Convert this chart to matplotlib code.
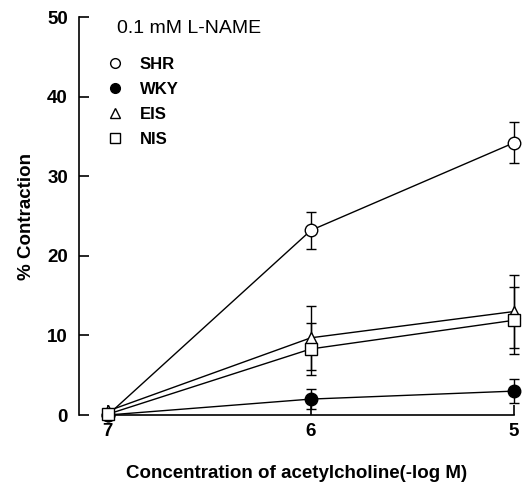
import matplotlib

matplotlib.use("Agg")
import matplotlib.pyplot as plt
from matplotlib.lines import Line2D

plt.rcParams["font.family"] = ["Liberation Sans", "DejaVu Sans"]

# -log M concentration of acetylcholine
conc = [7, 6, 5]

shr = [0.0, 23.2, 34.2]
shr_err = [0.3, 2.3, 2.6]
wky = [0.0, 2.0, 3.0]
wky_err = [0.2, 1.3, 1.5]
eis = [0.5, 9.7, 13.0]
eis_err = [0.3, 4.0, 4.6]
nis = [0.1, 8.3, 11.9]
nis_err = [0.2, 3.3, 4.2]

series = [
    ("SHR", shr, shr_err, "o", "white", 9),
    ("WKY", wky, wky_err, "o", "black", 9),
    ("EIS", eis, eis_err, "^", "white", 9),
    ("NIS", nis, nis_err, "s", "white", 8),
]

fig = plt.figure(figsize=(5.31, 4.82), dpi=100)
ax = fig.add_axes([79 / 531, 1 - 415 / 482, (514 - 79) / 531, 398 / 482])

for name, y, err, mk, fc, ms in series:
    ax.errorbar(conc, y, yerr=err, color="black", lw=1.0, elinewidth=1.0,
                capsize=3.5, capthick=1.0, marker=mk, mfc=fc, mec="black",
                mew=1.0, ms=ms, clip_on=False, zorder=3)

ax.set_xlim(7.142, 5.0)
ax.set_ylim(0, 50)
ax.set_xticks(conc, [str(c) for c in conc])
ax.set_yticks(range(0, 51, 10))
ax.spines["top"].set_visible(False)
ax.spines["right"].set_visible(False)
ax.spines["bottom"].set_bounds(7, 5)
for s in ("left", "bottom"):
    ax.spines[s].set_linewidth(1.2)
ax.tick_params(direction="in", length=7, width=1.2, labelsize=13.5)
ax.tick_params(axis="x", pad=6)
ax.tick_params(axis="y", pad=8)
for lab in ax.get_xticklabels() + ax.get_yticklabels():
    lab.set_fontweight("bold")

ax.set_xlabel("Concentration of acetylcholine(-log M)", fontsize=13.5,
              fontweight="bold", labelpad=18)
ax.set_ylabel("% Contraction", fontsize=13.5, fontweight="bold", labelpad=9)

# condition label above the key
ax.text(0.087, 0.972, "0.1 mM L-NAME", transform=ax.transAxes,
        fontsize=14, ha="left", va="center")

handles = [Line2D([], [], ls="none", marker=mk, mfc=fc, mec="black", ms=7)
           for _, _, _, mk, fc, _ in series]
ax.legend(handles, [s[0] for s in series], loc="upper left",
          bbox_to_anchor=(0.048, 0.93), frameon=False,
          prop={"size": 12, "weight": "bold"}, handletextpad=1.3,
          labelspacing=0.6, handlelength=0.4, borderpad=0.2)

fig.savefig("out.png", dpi=100)
